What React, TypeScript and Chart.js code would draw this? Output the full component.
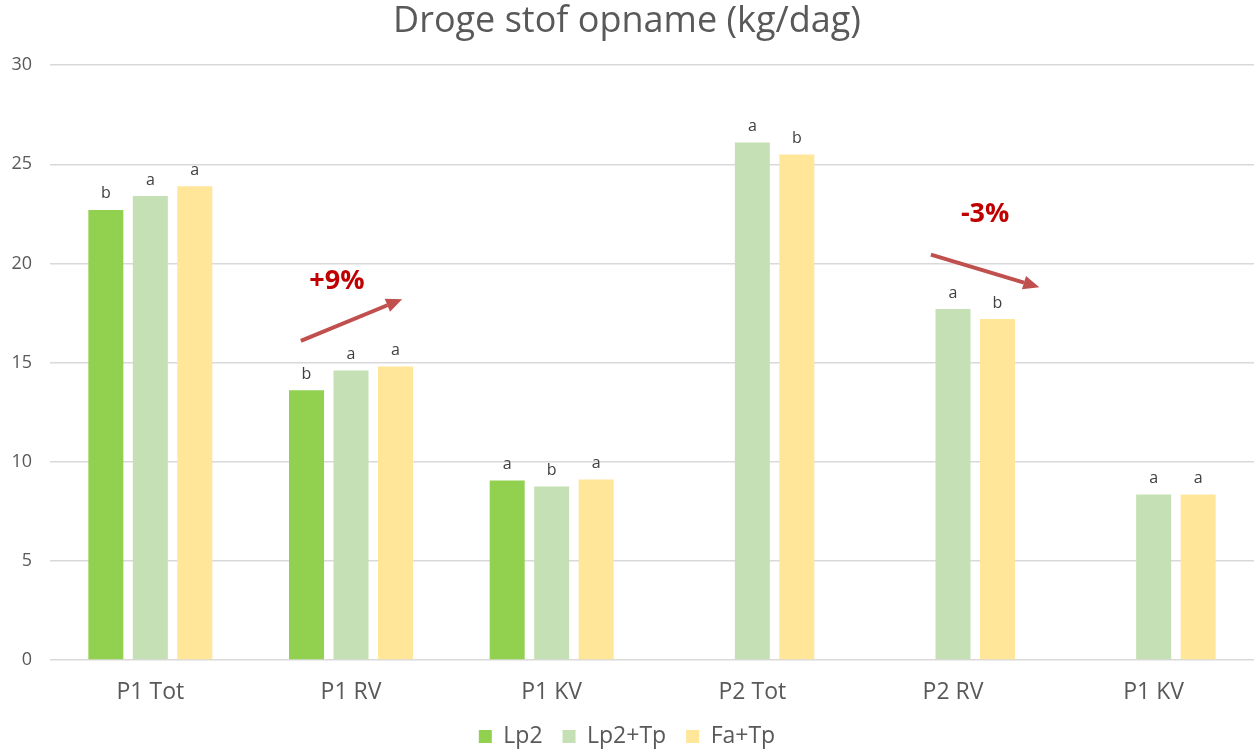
import React, { useEffect, useRef } from "react";
import { Chart, registerables } from "chart.js";

Chart.register(...registerables);

const categories = ["P1 Tot", "P1 RV", "P1 KV", "P2 Tot", "P2 RV", "P1 KV"];
const lp2 = [22.7, 13.6, 9.05, null, null, null];
const lp2Tp = [23.4, 14.6, 8.75, 26.1, 17.7, 8.35];
const faTp = [23.9, 14.8, 9.1, 25.5, 17.2, 8.35];
const lp2Letters = ["b", "b", "a", "", "", ""];
const lp2TpLetters = ["a", "a", "b", "a", "a", "a"];
const faTpLetters = ["a", "a", "a", "b", "b", "a"];
const yTicks = [0, 5, 10, 15, 20, 25, 30];

// annotations: category index, offsets in category units, y values
const arrowNotes = [
  { label: "+9%", cat: 1, x0: -0.25, y0: 16.1, x1: 0.255, y1: 18.2, tx: -0.07, ty: 19.1 },
  { label: "-3%", cat: 4, x0: -0.11, y0: 20.45, x1: 0.43, y1: 18.8, tx: 0.16, ty: 22.5 },
];

const FONT = "'Open Sans', 'DejaVu Sans', sans-serif";
const TEXT = "#595959";

const letterPlugin = {
  id: "letters",
  afterDatasetsDraw(chart: any) {
    const ctx = chart.ctx;
    const letterSets = [lp2Letters, lp2TpLetters, faTpLetters];
    ctx.save();
    ctx.font = `16px ${FONT}`;
    ctx.fillStyle = "#404040";
    ctx.textAlign = "center";
    ctx.textBaseline = "bottom";
    chart.data.datasets.forEach((ds: any, di: number) => {
      const meta = chart.getDatasetMeta(di);
      meta.data.forEach((bar: any, i: number) => {
        const v = ds.data[i];
        const l = letterSets[di][i];
        if (v == null || !l) return;
        ctx.fillText(l, bar.x, bar.y - 8);
      });
    });
    ctx.restore();
  },
};

const arrowPlugin = {
  id: "arrows",
  afterDatasetsDraw(chart: any) {
    const ctx = chart.ctx;
    const xs = chart.scales.x;
    const ys = chart.scales.y;
    const catW = xs.getPixelForValue(1) - xs.getPixelForValue(0);
    ctx.save();
    arrowNotes.forEach((n) => {
      const cx = xs.getPixelForValue(n.cat);
      const x0 = cx + n.x0 * catW;
      const x1 = cx + n.x1 * catW;
      const y0 = ys.getPixelForValue(n.y0);
      const y1 = ys.getPixelForValue(n.y1);
      const ang = Math.atan2(y1 - y0, x1 - x0);
      const head = 16;
      const hw = 7;
      const bx = x1 - head * Math.cos(ang);
      const by = y1 - head * Math.sin(ang);
      ctx.strokeStyle = "#C0504D";
      ctx.fillStyle = "#C0504D";
      ctx.lineWidth = 4;
      ctx.beginPath();
      ctx.moveTo(x0, y0);
      ctx.lineTo(bx, by);
      ctx.stroke();
      ctx.beginPath();
      ctx.moveTo(x1, y1);
      ctx.lineTo(bx + hw * Math.sin(ang), by - hw * Math.cos(ang));
      ctx.lineTo(bx - hw * Math.sin(ang), by + hw * Math.cos(ang));
      ctx.closePath();
      ctx.fill();
      ctx.font = `bold 27px ${FONT}`;
      ctx.fillStyle = "#C00000";
      ctx.textAlign = "center";
      ctx.textBaseline = "middle";
      ctx.fillText(n.label, cx + n.tx * catW, ys.getPixelForValue(n.ty));
    });
    ctx.restore();
  },
};

export default function App() {
  const ref = useRef<HTMLCanvasElement | null>(null);
  useEffect(() => {
    document.body.style.margin = "0";
    const chart = new Chart(ref.current as HTMLCanvasElement, {
      type: "bar",
      data: {
        labels: categories,
        datasets: [
          { label: "Lp2", data: lp2, backgroundColor: "#92D050" },
          { label: "Lp2+Tp", data: lp2Tp, backgroundColor: "#C5E0B4" },
          { label: "Fa+Tp", data: faTp, backgroundColor: "#FFE699" },
        ],
      },
      options: {
        animation: false,
        responsive: false,
        maintainAspectRatio: false,
        layout: { padding: { left: 0, right: 0, top: 0, bottom: -3 } },
        datasets: {
          bar: { categoryPercentage: 0.665, barPercentage: 0.787 },
        },
        plugins: {
          title: {
            display: true,
            text: "Droge stof opname (kg/dag)",
            color: TEXT,
            font: { family: FONT, size: 36, weight: "normal" },
            padding: { top: 0, bottom: 22 },
          },
          legend: {
            position: "bottom",
            labels: {
              color: TEXT,
              font: { family: FONT, size: 23 },
              boxWidth: 13,
              boxHeight: 13,
              padding: 20,
            },
          },
          tooltip: { enabled: false },
        },
        scales: {
          x: {
            grid: { display: false },
            border: { display: false },
            ticks: { color: TEXT, font: { family: FONT, size: 23 }, padding: 11 },
            afterFit: (s: any) => {
              s.height = 45;
            },
          },
          y: {
            min: 0,
            max: 30,
            afterBuildTicks: (s: any) => {
              s.ticks = yTicks.map((v) => ({ value: v }));
            },
            grid: { color: "#D9D9D9", lineWidth: 1.5, drawTicks: false },
            border: { display: false },
            ticks: { color: TEXT, font: { family: FONT, size: 18 }, padding: 18 },
            afterFit: (s: any) => {
              s.width = 50;
            },
          },
        },
      },
      plugins: [letterPlugin, arrowPlugin],
    });
    return () => chart.destroy();
  }, []);
  return (
    <div style={{ position: "absolute", left: 0, top: 0, width: 1254, height: 755, background: "#fff" }}>
      <canvas ref={ref} width={1254} height={755} style={{ display: "block" }} />
    </div>
  );
}
